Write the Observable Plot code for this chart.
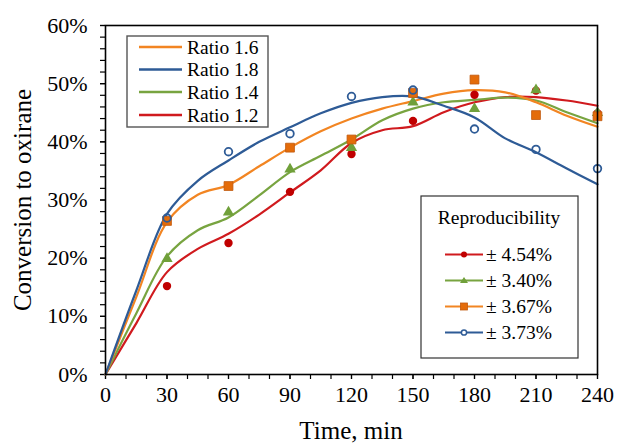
<!DOCTYPE html>
<html>
<head>
<meta charset="utf-8">
<script src="https://cdn.jsdelivr.net/npm/d3@7"></script>
<script src="https://cdn.jsdelivr.net/npm/@observablehq/plot@0.6"></script>
<style>
  html, body { margin: 0; padding: 0; background: #fff; }
  #chart { width: 618px; height: 443px; }
  #chart svg, #chart svg text { font-family: "Liberation Serif", "Times New Roman", serif !important; }
</style>
</head>
<body>
<div id="chart"></div>
<script>
// ---- Data ----
const sampleTimes = [30, 60, 90, 120, 150, 180, 210, 240];
const pointsR12 = [15.2, 22.6, 31.4, 37.9, 43.6, 48.1, 48.8, 44.9];
const pointsR14 = [19.9, 27.9, 35.3, 39.0, 46.8, 45.7, 48.9, 45.0];
const pointsR16 = [26.4, 32.4, 39.0, 40.4, 48.4, 50.7, 44.6, 44.4];
const pointsR18 = [26.9, 38.3, 41.4, 47.8, 48.9, 42.2, 38.7, 35.4];

const curveTimes = [0, 15, 30, 45, 60, 75, 90, 105, 120, 135, 150, 165, 180, 195, 210, 225, 240];
const curveR12 = [0, 8.8, 17.6, 21.6, 24.2, 27.5, 31.3, 35.1, 39.8, 42.0, 42.7, 45.1, 46.8, 47.7, 47.7, 47.1, 46.2];
const curveR14 = [0, 10.5, 20.3, 24.8, 27.0, 30.8, 34.8, 37.6, 40.4, 43.7, 45.7, 46.8, 47.2, 47.6, 47.1, 45.1, 43.2];
const curveR16 = [0, 13.3, 26.2, 30.9, 32.6, 35.8, 39.0, 41.8, 44.0, 45.7, 47.0, 48.3, 48.9, 48.5, 46.8, 44.5, 42.6];
const curveR18 = [0, 14.4, 27.6, 33.3, 36.8, 40.0, 42.5, 44.9, 46.7, 47.7, 47.8, 46.2, 44.2, 40.6, 38.2, 35.4, 32.7];

const xTicks = [0, 30, 60, 90, 120, 150, 180, 210, 240];
const yTicks = [0, 10, 20, 30, 40, 50, 60];

const curveLegendLabels = ["Ratio 1.6", "Ratio 1.8", "Ratio 1.4", "Ratio 1.2"];
const reproLabels = ["± 4.54%", "± 3.40%", "± 3.67%", "± 3.73%"];

// ---- Styles ----
const C = {
  red: "#D01A1E", redM: "#C00000",
  green: "#78A440", greenM: "#70A03A",
  orange: "#F28522", orangeM: "#E46C0A", orangeS: "#C05A10",
  blue: "#2E5B96"
};

const pts = (vals) => sampleTimes.map((t, i) => ({t, v: vals[i]}));
const crv = (vals) => curveTimes.map((t, i) => ({t, v: vals[i]}));

const lineOpts = {x: "t", y: "v", curve: "catmull-rom", strokeWidth: 2.2};

const chart = Plot.plot({
  width: 618,
  height: 443,
  marginLeft: 105,
  marginRight: 21,
  marginTop: 25,
  marginBottom: 69,
  style: {fontFamily: "'Liberation Serif', 'Times New Roman', serif", fontSize: "22px", color: "black", background: "white"},
  x: {domain: [0, 240]},
  y: {domain: [0, 60]},
  marks: [
    Plot.axisX({ticks: d3.range(0, 241, 10), tickSize: 5, tickFormat: () => "", label: null, strokeWidth: 1.2}),
    Plot.axisY({ticks: d3.range(0, 61, 2), tickSize: 5, tickFormat: () => "", label: null, strokeWidth: 1.2}),
    Plot.axisX({ticks: xTicks, tickSize: 5, tickPadding: 7, label: null, strokeWidth: 1.2, tickFormat: d => String(d)}),
    Plot.axisY({ticks: yTicks, tickSize: 5, tickPadding: 13, label: null, strokeWidth: 1.2, tickFormat: d => d + "%"}),
    Plot.line(crv(curveR12), {...lineOpts, stroke: C.red}),
    Plot.line(crv(curveR14), {...lineOpts, stroke: C.green}),
    Plot.line(crv(curveR16), {...lineOpts, stroke: C.orange}),
    Plot.line(crv(curveR18), {...lineOpts, stroke: C.blue}),
    Plot.dot(pts(pointsR12), {x: "t", y: "v", r: 4.2, fill: C.redM, stroke: "none"}),
    Plot.dot(pts(pointsR14), {x: "t", y: "v", symbol: "triangle", r: 4.2, fill: C.greenM, stroke: "none"}),
    Plot.dot(pts(pointsR16), {x: "t", y: "v", symbol: "square", r: 5, fill: C.orangeM, stroke: C.orangeS, strokeWidth: 0.8}),
    Plot.dot(pts(pointsR18), {x: "t", y: "v", r: 3.8, fill: "white", fillOpacity: 0, stroke: C.blue, strokeWidth: 1.8}),
    Plot.frame({stroke: "black", strokeWidth: 1.6})
  ]
});

document.getElementById("chart").appendChild(chart);

// ---- Titles & legends ----
const svg = d3.select(chart);
const font = "'Liberation Serif', 'Times New Roman', serif";

svg.append("text")
  .attr("x", 351).attr("y", 443 - 4)
  .attr("text-anchor", "middle")
  .attr("font-family", font).attr("font-size", 25)
  .attr("fill", "black")
  .text("Time, min");

svg.append("text")
  .attr("transform", "translate(31,200) rotate(-90)")
  .attr("text-anchor", "middle")
  .attr("font-family", font).attr("font-size", 25)
  .attr("fill", "black")
  .text("Conversion to oxirane");

// Legend 1: curves
const lg1 = svg.append("g");
lg1.append("rect").attr("x", 127).attr("y", 36).attr("width", 141).attr("height", 91)
  .attr("fill", "white").attr("stroke", "#555").attr("stroke-width", 1.4);
const lg1Colors = [C.orange, C.blue, C.green, C.red];
const lg1Y = [47, 69.5, 92, 115];
curveLegendLabels.forEach((lab, i) => {
  lg1.append("line").attr("x1", 139).attr("x2", 182).attr("y1", lg1Y[i]).attr("y2", lg1Y[i])
    .attr("stroke", lg1Colors[i]).attr("stroke-width", 2.4);
  lg1.append("text").attr("x", 187).attr("y", lg1Y[i]).attr("dy", "0.35em")
    .attr("text-anchor", "start")
    .attr("font-family", font).attr("font-size", 19.5).attr("fill", "black").text(lab);
});

// Legend 2: reproducibility
const lg2 = svg.append("g");
lg2.append("rect").attr("x", 421).attr("y", 196).attr("width", 157).attr("height", 162)
  .attr("fill", "white").attr("stroke", "#333").attr("stroke-width", 1.2);
lg2.append("text").attr("x", 499).attr("y", 217).attr("dy", "0.35em").attr("text-anchor", "middle")
  .attr("font-family", font).attr("font-size", 19.5).attr("fill", "black").text("Reproducibility");
const lg2Y = [254.5, 280.5, 306.5, 332.5];
const lg2Colors = [C.red, C.green, C.orange, C.blue];
reproLabels.forEach((lab, i) => {
  const y = lg2Y[i];
  lg2.append("line").attr("x1", 445).attr("x2", 483).attr("y1", y).attr("y2", y)
    .attr("stroke", lg2Colors[i]).attr("stroke-width", 2.2);
  if (i === 0) {
    lg2.append("circle").attr("cx", 464).attr("cy", y).attr("r", 3).attr("fill", C.redM);
  } else if (i === 1) {
    lg2.append("path").attr("d", `M464,${y - 3.5}L468,${y + 2.5}L460,${y + 2.5}Z`).attr("fill", C.greenM);
  } else if (i === 2) {
    lg2.append("rect").attr("x", 460.5).attr("y", y - 3.5).attr("width", 7).attr("height", 7)
      .attr("fill", C.orangeM).attr("stroke", C.orangeS).attr("stroke-width", 0.8);
  } else {
    lg2.append("circle").attr("cx", 464).attr("cy", y).attr("r", 2.6).attr("fill", "white")
      .attr("stroke", C.blue).attr("stroke-width", 1.5);
  }
  lg2.append("text").attr("x", 486).attr("y", y).attr("dy", "0.35em")
    .attr("text-anchor", "start")
    .attr("font-family", font).attr("font-size", 19.5).attr("fill", "black").text(lab);
});
</script>
</body>
</html>
